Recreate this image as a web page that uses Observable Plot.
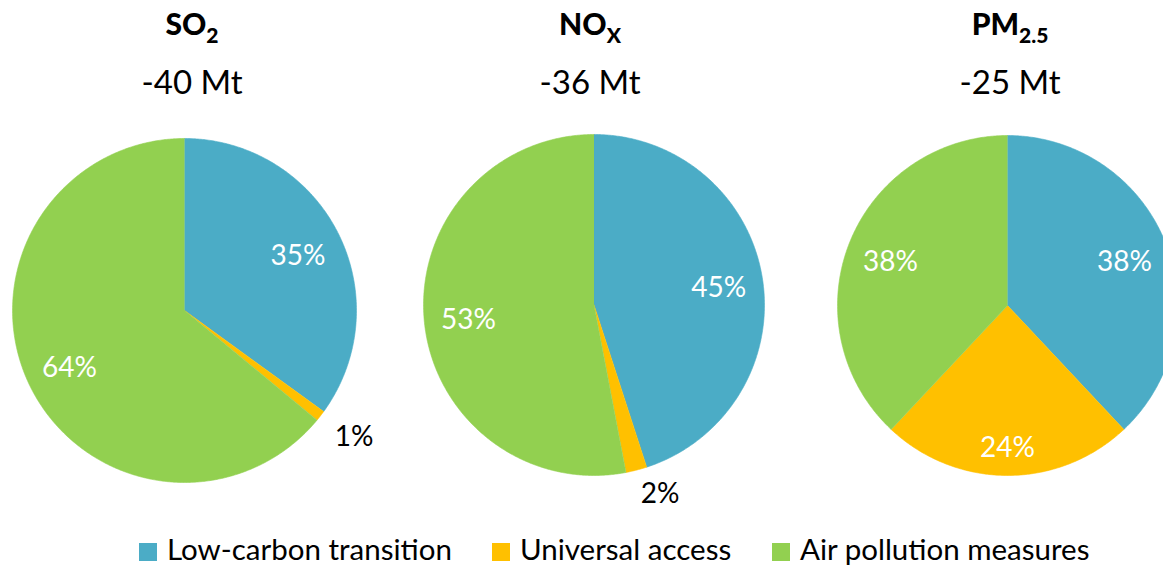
<!DOCTYPE html>
<html>
<head>
<meta charset="utf-8">
<script src="https://cdn.jsdelivr.net/npm/d3@7"></script>
<script src="https://cdn.jsdelivr.net/npm/@observablehq/plot@0.6"></script>
<style>
  html, body { margin: 0; padding: 0; background: #fff; overflow: hidden; }
  #wrap { position: relative; width: 1163px; height: 565px; overflow: hidden; font-family: Lato, sans-serif; color: #000; }
  #wrap svg.plotsvg { position: absolute; left: 0; top: 0; max-width: none; background: transparent; }
  .t1 { position: absolute; width: 300px; margin-left: -150px; text-align: center; font-weight: 900; font-size: 30px; line-height: 36px; top: 5.4px; white-space: nowrap; }
  .t1 sub { font-size: 21px; vertical-align: -8px; line-height: 0; }
  .t2 { position: absolute; width: 300px; margin-left: -150px; text-align: center; font-size: 33px; line-height: 39.6px; top: 62.4px; white-space: nowrap; }
  .sw { position: absolute; top: 543px; width: 18px; height: 18px; }
  .lt { position: absolute; top: 531px; font-size: 29.5px; line-height: 35.4px; white-space: nowrap; }
</style>
</head>
<body>
<div id="wrap"></div>
<script>
// ---- data ----
const pollutants = ["SO2", "NOx", "PM2.5"];
const formulaBase = ["SO", "NO", "PM"];
const formulaSub = ["2", "X", "2.5"];
const totalsMt = [-40, -36, -25];
const categories = ["Low-carbon transition", "Universal access", "Air pollution measures"];
const lowCarbon = [35, 45, 38];
const universalAccess = [1, 2, 24];
const airPollution = [64, 53, 38];
const colors = ["#4BACC6", "#FFC000", "#92D050"];

// ---- layout (not data) ----
const pieLayout = {
  "SO2":   {dx: 0,       dy: -0.0293, r: 1.0088},
  "NOx":   {dx: -0.0117, dy: 0.003,   r: 1.0},
  "PM2.5": {dx: 0,       dy: 0,       r: 0.997}
};
const insideLabelR = 0.74;
const labelOverride = {
  "PM2.5|Universal access": {r: 0.82, da: 0},
  "SO2|Universal access":   {r: 1.226, da: -1.4},
  "NOx|Universal access":   {r: 1.167, da: -5}
};
const titleX = [192, 590, 1010];
const legendX = [139, 492, 772];

// ---- build rows from data ----
const seriesByCat = [lowCarbon, universalAccess, airPollution];
const pie = d3.pie().sort(null).value(d => d.value);
const slicePts = [];
const insideLabels = [];
const outsideLabels = [];
pollutants.forEach((p, i) => {
  const rows = categories.map((c, j) => ({pollutant: p, category: c, value: seriesByCat[j][i]}));
  const L = pieLayout[p];
  const arcs = pie(rows);
  arcs.forEach(a => {
    const key = p + "|" + a.data.category;
    slicePts.push({pollutant: p, category: a.data.category, key, x: L.dx, y: L.dy});
    const n = Math.max(2, Math.ceil((a.endAngle - a.startAngle) / (Math.PI / 360)));
    for (let k = 0; k <= n; ++k) {
      const t = a.startAngle + (a.endAngle - a.startAngle) * k / n;
      slicePts.push({pollutant: p, category: a.data.category, key,
        x: L.dx + L.r * Math.sin(t), y: L.dy + L.r * Math.cos(t)});
    }
    const ov = labelOverride[key] || {r: insideLabelR, da: 0};
    const mid = (a.startAngle + a.endAngle) / 2 + ov.da * Math.PI / 180;
    const lab = {pollutant: p, label: a.data.value + "%",
      x: L.dx + ov.r * L.r * Math.sin(mid), y: L.dy + ov.r * L.r * Math.cos(mid)};
    (ov.r > 1 ? outsideLabels : insideLabels).push(lab);
  });
});

const chart = Plot.plot({
  width: 1186,
  height: 565,
  marginLeft: 5,
  marginRight: 0,
  marginTop: 49.25,
  marginBottom: 4.25,
  style: {fontFamily: "Lato, sans-serif", background: "transparent"},
  fx: {domain: pollutants, axis: null, paddingInner: 0.13, paddingOuter: 0, round: false},
  x: {domain: [-1.05, 1.05], axis: null},
  y: {domain: [-1.5, 1.5], axis: null},
  color: {domain: categories, range: colors},
  marks: [
    Plot.line(slicePts, {fx: "pollutant", x: "x", y: "y", z: "key", fill: "category", stroke: "category", strokeWidth: 0.6, curve: "linear"}),
    Plot.text(insideLabels, {fx: "pollutant", x: "x", y: "y", dy: 3, text: "label", fill: "white", fontSize: 28, fontFamily: "Lato, sans-serif"}),
    Plot.text(outsideLabels, {fx: "pollutant", x: "x", y: "y", dy: 1, text: "label", fill: "black", fontSize: 28, fontFamily: "Lato, sans-serif"})
  ]
});
chart.classList.add("plotsvg");
chart.style.maxWidth = "none";
const wrap = document.getElementById("wrap");
wrap.appendChild(chart);

// titles
pollutants.forEach((p, i) => {
  const t1 = document.createElement("div");
  t1.className = "t1";
  t1.style.left = titleX[i] + "px";
  t1.innerHTML = formulaBase[i] + "<sub>" + formulaSub[i] + "</sub>";
  wrap.appendChild(t1);
  const t2 = document.createElement("div");
  t2.className = "t2";
  t2.style.left = titleX[i] + "px";
  t2.textContent = totalsMt[i] + " Mt";
  wrap.appendChild(t2);
});

// legend from the chart's colour scale
const cs = chart.scale("color");
cs.domain.forEach((c, j) => {
  const sw = document.createElement("div");
  sw.className = "sw";
  sw.style.left = legendX[j] + "px";
  sw.style.background = cs.range[j];
  wrap.appendChild(sw);
  const lt = document.createElement("div");
  lt.className = "lt";
  lt.style.left = (legendX[j] + 28) + "px";
  lt.textContent = c;
  wrap.appendChild(lt);
});
</script>
</body>
</html>
